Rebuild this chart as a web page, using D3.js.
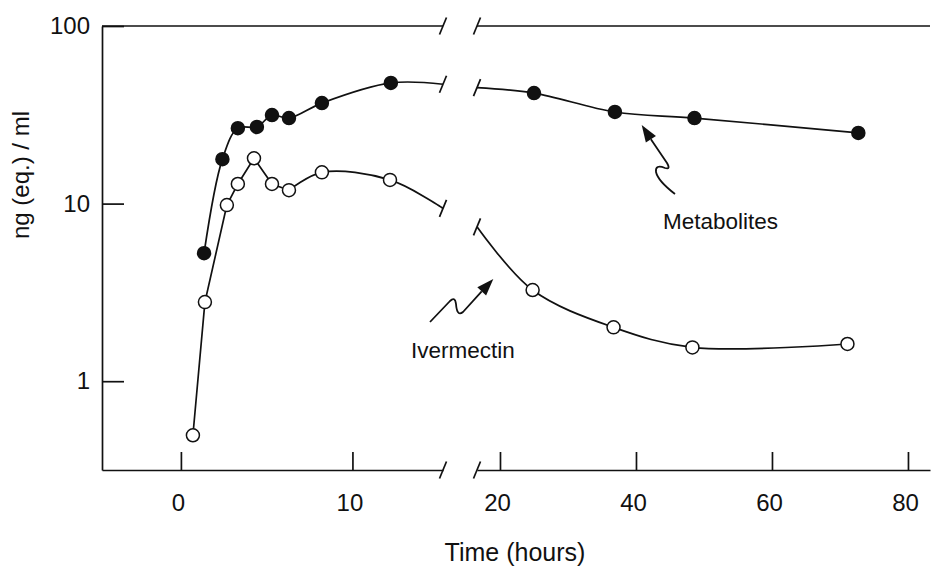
<!DOCTYPE html>
<html><head><meta charset="utf-8">
<script src="https://cdn.jsdelivr.net/npm/d3@7"></script>
<style>
body{margin:0;background:#fff}
svg{display:block}
text{font-family:"Liberation Sans",Arial,Helvetica,sans-serif;fill:#111}
</style>
</head><body>
<svg id="c" width="937" height="569"></svg>
<script>
// ---- data ----
const leftTicks = [0, 10];
const rightTicks = [20, 40, 60, 80];
const yTicks = [1, 10, 100];

const metabLeftT = [1.35, 2.42, 3.32, 4.43, 5.31, 6.30, 8.22, 12.24];
const metabLeftV = [5.26, 17.8, 26.6, 27.0, 31.5, 30.3, 36.8, 47.8];
const metabRightT = [25.0, 36.9, 48.6, 72.7];
const metabRightV = [41.9, 32.8, 30.3, 25.0];

const iverLeftT = [0.70, 1.40, 2.68, 3.32, 4.26, 5.31, 6.30, 8.22, 12.19];
const iverLeftV = [0.496, 2.79, 9.81, 12.9, 18.0, 12.9, 11.9, 15.0, 13.6];
const iverRightT = [24.8, 36.7, 48.3, 71.1];
const iverRightV = [3.26, 2.01, 1.55, 1.62];

// values of the fitted curves where they meet the axis break [left end, right start]
const metabBreakV = [47.0, 45.0];
const iverBreakV = [9.4, 7.4];

// ---- scales ----
const svg = d3.select("#c");
const xL = d3.scaleLinear().domain([-4.6, 15.28]).range([102, 443]);
const xR = d3.scaleLinear().domain([16.62, 83.24]).range([477, 930]);
const y = d3.scaleLog().domain([Math.pow(10, -0.5), 100]).range([470, 26]);
const yTop = y.range()[1], yBot = y.range()[0];
const SW = 1.7;

// ---- axes ----
const gxL = svg.append("g").attr("transform", `translate(0,${yBot})`)
  .call(d3.axisBottom(xL).tickValues(leftTicks).tickSizeInner(-18).tickSizeOuter(0).tickPadding(24).tickFormat(d3.format("d")));
const gxR = svg.append("g").attr("transform", `translate(0,${yBot})`)
  .call(d3.axisBottom(xR).tickValues(rightTicks).tickSizeInner(-18).tickSizeOuter(0).tickPadding(24).tickFormat(d3.format("d")));
const gy = svg.append("g").attr("transform", `translate(${xL.range()[0]},0)`)
  .call(d3.axisLeft(y).tickValues(yTicks).tickSizeInner(-22).tickSizeOuter(0).tickPadding(12).tickFormat(d3.format("d")));

[gxL, gxR, gy].forEach(g => {
  g.selectAll("path,line").attr("stroke", "#111").attr("stroke-width", SW);
  g.selectAll("text").attr("font-size", 24).attr("fill", "#111")
   .attr("font-family", '"Liberation Sans",Arial,Helvetica,sans-serif');
});
gxL.selectAll("text").attr("dx", -3);
gxR.selectAll("text").attr("dx", -3);

// top border (broken)
svg.append("line").attr("x1", xL.range()[0]).attr("x2", xL.range()[1]).attr("y1", yTop).attr("y2", yTop)
  .attr("stroke", "#111").attr("stroke-width", SW);
svg.append("line").attr("x1", xR.range()[0]).attr("x2", xR.range()[1]).attr("y1", yTop).attr("y2", yTop)
  .attr("stroke", "#111").attr("stroke-width", SW);

// break slashes
function slash(cx, cy) {
  svg.append("line").attr("x1", cx - 3.5).attr("y1", cy + 8.5).attr("x2", cx + 3.5).attr("y2", cy - 8.5)
    .attr("stroke", "#111").attr("stroke-width", SW);
}
const bL = xL.range()[1], bR = xR.range()[0];
[yTop, yBot].forEach(yy => { slash(bL, yy); slash(bR, yy); });
slash(bL, y(metabBreakV[0])); slash(bR, y(metabBreakV[1]));
slash(bL, y(iverBreakV[0])); slash(bR, y(iverBreakV[1]));

// ---- curves ----
const zip = (T, V) => T.map((t, i) => ({t, v: V[i]}));
const lineL = c => d3.line().x(d => xL(d.t)).y(d => y(d.v)).curve(c);
const lineR = c => d3.line().x(d => xR(d.t)).y(d => y(d.v)).curve(c);
const cr = d3.curveCatmullRom.alpha(0.5);
const lineStyle = p => p.attr("fill", "none").attr("stroke", "#111").attr("stroke-width", SW);

const mL = zip(metabLeftT, metabLeftV);
const mR = zip(metabRightT, metabRightV);
const iL = zip(iverLeftT, iverLeftV);
const iR = zip(iverRightT, iverRightV);

svg.append("path").datum(mL.concat([{t: xL.domain()[1], v: metabBreakV[0]}]))
  .attr("d", lineL(cr)).call(lineStyle);
svg.append("path").datum([{t: xR.domain()[0], v: metabBreakV[1]}].concat(mR))
  .attr("d", lineR(cr)).call(lineStyle);
svg.append("path").datum(iL.slice(0, 7))
  .attr("d", lineL(d3.curveLinear)).call(lineStyle);
svg.append("path").datum(iL.slice(6).concat([{t: xL.domain()[1], v: iverBreakV[0]}]))
  .attr("d", lineL(cr)).call(lineStyle);
svg.append("path").datum([{t: xR.domain()[0], v: iverBreakV[1]}].concat(iR))
  .attr("d", lineR(cr)).call(lineStyle);

// ---- markers ----
const R = 6.5;
function dots(data, xs, filled) {
  svg.append("g").selectAll("circle").data(data).join("circle")
    .attr("cx", d => xs(d.t)).attr("cy", d => y(d.v)).attr("r", R)
    .attr("fill", filled ? "#111" : "#fff").attr("stroke", "#111").attr("stroke-width", 1.5);
}
dots(iL, xL, false); dots(iR, xR, false);
dots(mL, xL, true); dots(mR, xR, true);

// ---- annotations ----
svg.append("text").attr("x", 663).attr("y", 229).attr("font-size", 22.5).text("Metabolites");
svg.append("text").attr("x", 411).attr("y", 358).attr("font-size", 22.5).text("Ivermectin");

function arrow(tip, base, wire) {
  const dx = tip[0] - base[0], dy = tip[1] - base[1], L = Math.hypot(dx, dy);
  const px = -dy / L * 6, py = dx / L * 6;
  svg.append("path").attr("d", `M${tip[0]},${tip[1]}L${base[0] + px},${base[1] + py}L${base[0] - px},${base[1] - py}Z`)
    .attr("fill", "#111");
  svg.append("path").attr("d", wire).attr("fill", "none").attr("stroke", "#111").attr("stroke-width", 1.8)
    .attr("stroke-linejoin", "round");
}
arrow([641.7, 125], [650.9, 139.3],
  "M650.9,139.3 L667,163 Q671,170 665,168 Q655,164 656,172 Q658,181 675,194");
arrow([493.3, 279], [481.7, 291.4],
  "M430,322 L450,301 Q455,296 456,304 Q457,317 463,312 L481.7,291.4");

// axis titles
svg.append("text").attr("x", 515).attr("y", 561).attr("text-anchor", "middle").attr("font-size", 25).text("Time (hours)");
svg.append("text").attr("transform", "translate(29,175) rotate(-90)").attr("text-anchor", "middle")
  .attr("font-size", 24).text("ng (eq.) / ml");
</script>
</body></html>
